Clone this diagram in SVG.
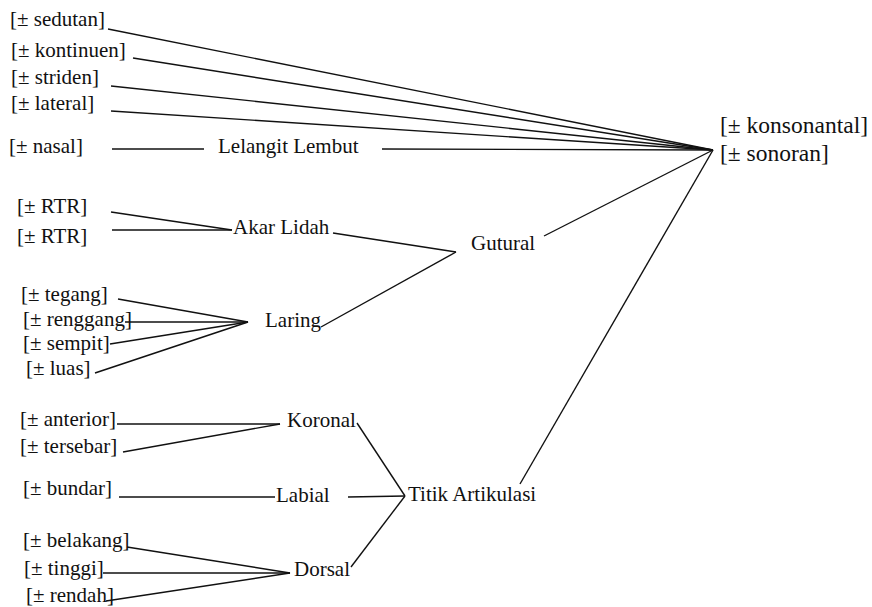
<svg xmlns="http://www.w3.org/2000/svg" width="872" height="607" viewBox="0 0 872 607">
<style>
.t text{font-size:21px;fill:#111}
.t .big{font-size:23.5px}
line{stroke:#111;stroke-width:1.4;fill:none}
</style>
<rect width="872" height="607" fill="#fff"/>
<g id="connectors">
<line x1="108" y1="29" x2="713" y2="150"/>
<line x1="133" y1="58" x2="713" y2="150"/>
<line x1="111" y1="86" x2="713" y2="150"/>
<line x1="111" y1="111" x2="713" y2="150"/>
<line x1="112" y1="149" x2="204" y2="149"/>
<line x1="382" y1="149" x2="713" y2="150"/>
<line x1="544" y1="236" x2="713" y2="150"/>
<line x1="520" y1="484" x2="713" y2="150"/>
<line x1="111" y1="212" x2="232" y2="230"/>
<line x1="112" y1="230" x2="232" y2="230"/>
<line x1="333" y1="233" x2="456" y2="252"/>
<line x1="321" y1="327" x2="456" y2="252"/>
<line x1="118" y1="299" x2="248" y2="322"/>
<line x1="125" y1="322" x2="248" y2="322"/>
<line x1="110" y1="344" x2="248" y2="322"/>
<line x1="95" y1="373" x2="248" y2="322"/>
<line x1="117" y1="424" x2="280" y2="424"/>
<line x1="123" y1="452" x2="280" y2="424"/>
<line x1="357" y1="423" x2="405" y2="496"/>
<line x1="119" y1="497" x2="275" y2="497"/>
<line x1="348" y1="497" x2="405" y2="496"/>
<line x1="351" y1="567" x2="405" y2="496"/>
<line x1="127" y1="547" x2="290" y2="573"/>
<line x1="103" y1="573" x2="290" y2="573"/>
<line x1="106" y1="601" x2="290" y2="573"/>
</g>
<g class="t" font-family="Liberation Serif, Times New Roman, DejaVu Serif, serif">
<g id="sedutan"><text x="10" y="26">[± sedutan]</text></g>
<g id="kontinuen"><text x="11" y="57">[± kontinuen]</text></g>
<g id="striden"><text x="11" y="84">[± striden]</text></g>
<g id="lateral"><text x="11" y="110">[± lateral]</text></g>
<g id="nasal"><text x="9" y="153">[± nasal]</text></g>
<g id="lelangit"><text x="218" y="153">Lelangit Lembut</text></g>
<g id="root"><text class="big" x="720" y="133">[± konsonantal]</text><text class="big" x="720" y="161">[± sonoran]</text></g>
<g id="rtr1"><text x="17" y="213">[± RTR]</text></g>
<g id="rtr2"><text x="17" y="243">[± RTR]</text></g>
<g id="akar"><text x="233" y="234">Akar Lidah</text></g>
<g id="gutural"><text x="471" y="250">Gutural</text></g>
<g id="tegang"><text x="21" y="301">[± tegang]</text></g>
<g id="renggang"><text x="23" y="326">[± renggang]</text></g>
<g id="sempit"><text x="23" y="350">[± sempit]</text></g>
<g id="luas"><text x="26" y="375">[± luas]</text></g>
<g id="laring"><text x="265" y="327">Laring</text></g>
<g id="anterior"><text x="20" y="426">[± anterior]</text></g>
<g id="tersebar"><text x="20" y="453">[± tersebar]</text></g>
<g id="koronal"><text x="287" y="427">Koronal</text></g>
<g id="bundar"><text x="23" y="495">[± bundar]</text></g>
<g id="labial"><text x="276" y="502">Labial</text></g>
<g id="titik"><text x="408" y="501">Titik Artikulasi</text></g>
<g id="belakang"><text x="23" y="547">[± belakang]</text></g>
<g id="tinggi"><text x="24" y="575">[± tinggi]</text></g>
<g id="rendah"><text x="26" y="602">[± rendah]</text></g>
<g id="dorsal"><text x="294" y="576">Dorsal</text></g>
</g>
</svg>
